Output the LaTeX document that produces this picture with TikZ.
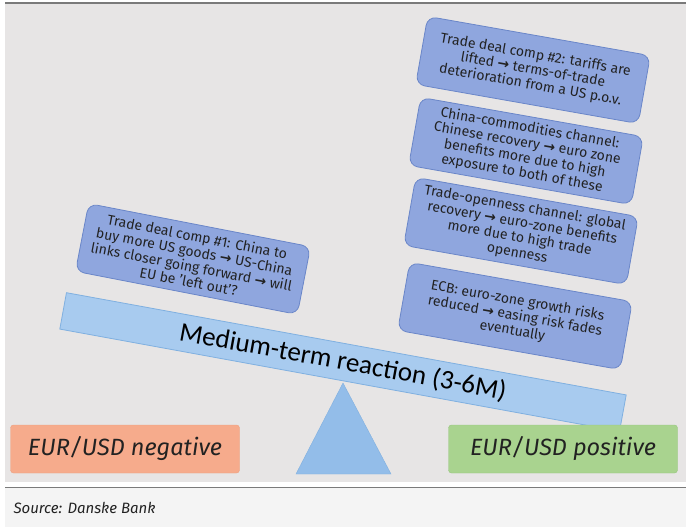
\documentclass[tikz,border=0pt]{standalone}
\usepackage{fontspec}
\setmainfont{Fira Sans}
\newfontfamily\plankfont{Carlito}
\newfontfamily\arrowfont{DejaVu Sans}
\newcommand{\goesto}{{\arrowfont\bfseries\char"2192}}
\usepackage{tikz}

\definecolor{panel}{HTML}{E7E5E5}
\definecolor{capfill}{HTML}{F4F4F4}
\definecolor{rule}{HTML}{7A7A7A}
\definecolor{textdark}{HTML}{222222}
\definecolor{boxfill}{HTML}{8FA6DE}
\definecolor{boxline}{HTML}{6A86C8}
\definecolor{plankfill}{HTML}{A8CBEF}
\definecolor{plankline}{HTML}{80B0E0}
\definecolor{fulcfill}{HTML}{93BDE9}
\definecolor{negfill}{HTML}{F6AB8C}
\definecolor{negline}{HTML}{EDA080}
\definecolor{posfill}{HTML}{A9D38F}
\definecolor{posline}{HTML}{97C67E}

\tikzset{
  infobox/.style={draw=boxline, fill=boxfill, line width=0.8pt, rounded corners=9pt,
    minimum width=226pt, minimum height=69pt, inner sep=1pt, align=center,
    text=textdark, font=\fontsize{14}{15.2}\selectfont},
  fxbox/.style={rounded corners=3pt, minimum width=229pt, minimum height=48pt,
    text=textdark, font=\fontsize{23.5}{26}\selectfont\itshape},
  plank/.style={draw=plankline, fill=plankfill, line width=0.8pt,
    minimum width=569pt, minimum height=37pt, inner sep=0pt,
    text=black, font=\plankfont\fontsize{27}{30}\selectfont}
}

\begin{document}
\begin{tikzpicture}[x=1pt,y=-1pt]
  \useasboundingbox (0,0) rectangle (686,527);
  \fill[white] (0,0) rectangle (686,527);
  \fill[panel] (5,4) rectangle (686,482);
  \fill[capfill] (5,488) rectangle (686,527);
  \draw[rule, line width=1.5pt] (5,3) -- (686,3);
  \draw[rule, line width=1pt] (5,487) -- (686,487);

  % fulcrum and beam
  \coordinate (tip) at (343,383);
  \draw[plankline, fill=fulcfill] (tip) -- (296,474) -- (391,474) -- cycle;
  \node[plank, rotate=-10.35] (beam) at (343,362) {Medium-term reaction (3-6M)};

  \node[fxbox, fill=negfill, draw=negline] (neg) at (125,449) {EUR/USD negative};
  \node[fxbox, fill=posfill, draw=posline] (pos) at (563,449) {EUR/USD positive};

  % arguments on each side
  \node[infobox, rotate=-11] (comp1) at (193,259)
    {Trade deal comp \#1: China to\\ buy more US goods \goesto{} US-China\\ links closer going forward \goesto{} will\\ EU be 'left out'?};
  \node[infobox, rotate=-10] (comp2) at (533,70)
    {Trade deal comp \#2: tariffs are\\ lifted \goesto{} terms-of-trade\\ deterioration from a US p.o.v.};
  \node[infobox, rotate=-10] (china) at (526,151)
    {China-commodities channel:\\ Chinese recovery \goesto{} euro zone\\ benefits more due to high\\ exposure to both of these};
  \node[infobox, rotate=-10] (open) at (521,231)
    {Trade-openness channel: global\\ recovery \goesto{} euro-zone benefits\\ more due to high trade\\ openness};
  \node[infobox, rotate=-10] (ecb) at (515,316)
    {ECB: euro-zone growth risks\\ reduced \goesto{} easing risk fades\\ eventually};

  \node[anchor=west, text=textdark, font=\fontsize{15}{18}\selectfont\itshape] (src) at (10,508) {Source: Danske Bank};
\end{tikzpicture}
\end{document}
